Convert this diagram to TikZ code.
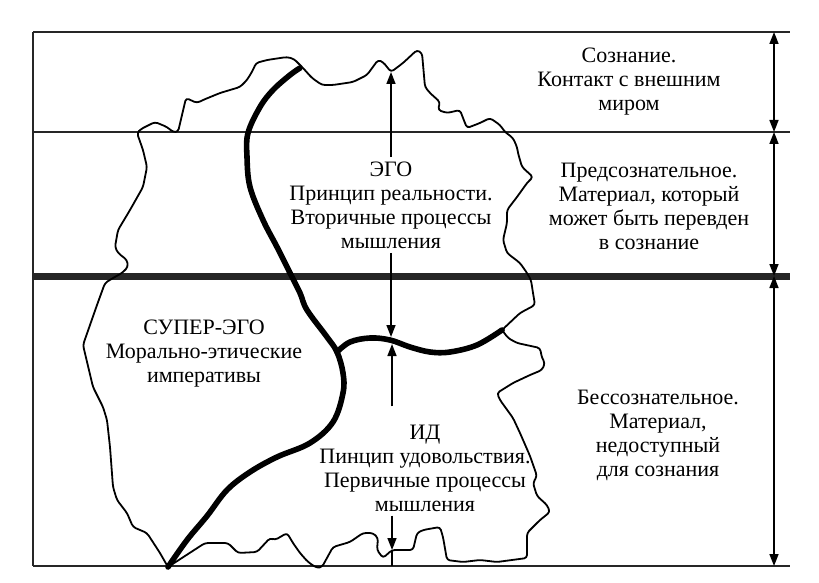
\documentclass[tikz,border=0pt]{standalone}
\usepackage{fontspec}
\setmainfont{Liberation Serif}
\usetikzlibrary{arrows.meta,calc}

\begin{document}
\begin{tikzpicture}[x=0.5pt,y=-0.5pt,
  lbl/.style={align=center,font=\fontsize{11}{12}\selectfont,inner sep=2pt},
  ar/.style={-{Triangle[length=6pt,width=4.5pt]},line width=0.8pt},
  dar/.style={{Triangle[length=6pt,width=4.5pt]}-{Triangle[length=6pt,width=4.5pt]},line width=0.8pt},
  rule/.style={line width=1pt,color=black!85},
  rim/.style={line width=0.9pt,rounded corners=1.5pt,line join=round},
  wall/.style={line width=2.8pt,line cap=round}]
\useasboundingbox (0,0) rectangle (819,583);
% frame and levels
\foreach \y in {32,132,566} \draw[rule] (33,\y) -- (790,\y);
\draw[rule,line width=3.5pt] (33,276) -- (790,276);
\draw[rule] (33,32) -- (33,566);
\foreach \n/\y in {r0/32,r1/132,r2/276,r3/566} \coordinate (\n) at (774,\y);
\draw[dar] (r0) -- (r1);
\draw[dar] (r1) -- (r2);
\draw[dar] (r2) -- (r3);
% outline of the psyche
\draw[rim] plot coordinates {(137,133) (141,129) (155,122) (167,127) (173,132) (178,132)
  (182,115) (186,98) (197,103) (203,100) (220,93) (240,87) (247,80) (253,70) (256,63)
  (267,60) (287,57) (294,59) (303,68) (312,78) (322,85) (333,85) (353,82) (367,75)
  (378,60) (383,62) (391,72) (403,63) (417,50) (422,53) (425,87) (430,93) (440,102)
  (438,110) (447,113) (460,110) (463,118) (467,128) (480,123) (490,118) (500,125)
  (505,132) (513,138) (517,147) (518,153) (522,167) (533,177) (527,183) (517,197)
  (507,210) (507,223) (503,240) (507,253) (520,263) (527,273) (531,280) (533,293)
  (535,305) (520,313) (502,330) (508,338) (517,343) (540,348) (542,358) (545,363)
  (542,370) (530,375) (513,383) (497,393) (500,400) (513,418) (520,433) (530,456)
  (537,476) (533,483) (537,496) (547,505) (550,512) (540,520) (527,533) (527,558)
  (497,562) (480,560) (463,562) (447,560) (443,537) (440,527) (423,530) (417,533)
  (413,550) (400,550) (392,550) (383,558) (377,550) (378,538) (373,533) (363,533)
  (350,542) (333,547) (322,567) (317,568) (308,562) (300,553) (293,543) (287,533)
  (275,540) (270,538) (257,552) (238,553) (228,543) (205,543) (168,567) (160,553)
  (147,533) (133,527) (127,513) (117,500) (113,487) (110,447) (107,420) (103,407)
  (93,387) (83,345) (90,325) (97,305) (105,283) (113,278) (122,273) (128,267)
  (127,260) (118,253) (115,247) (118,230) (130,210) (143,187) (147,167) (143,150)} -- cycle;
% borders between the instances
\draw[wall] plot[smooth,tension=0.6] coordinates {(300,68) (290,75) (273,90) (260,107)
  (248,133) (247,157) (250,187) (263,220) (277,247) (290,273) (300,293) (307,310)
  (327,337) (337,352) (343,373) (343,393) (333,422) (310,443) (277,457) (250,472)
  (227,490) (207,516) (187,540) (168,567)};
\draw[wall] plot[smooth,tension=0.6] coordinates {(337,352) (350,342) (370,338) (390,340)
  (410,347) (430,352) (450,352) (477,345) (502,330)};
% labels
\node[lbl] (soz) at (629,82) {Сознание.\\Контакт с внешним\\миром};
\node[lbl] (pred) at (649,206) {Предсознательное.\\Материал, который\\может быть перевден\\в сознание};
\node[lbl] (bess) at (658,435) {Бессознательное.\\Материал,\\недоступный\\для сознания};
\node[lbl] (ego) at (391,205) {ЭГО\\Принцип реальности.\\Вторичные процессы\\мышления};
\node[lbl] (super) at (204,354) {СУПЕР-ЭГО\\Морально-этические\\императивы};
\node[lbl] (id) at (425,468) {ИД\\Пинцип удовольствия.\\Первичные процессы\\мышления};
% pressure arrows
\coordinate (egotop) at (391,72);
\coordinate (egobot) at (391,337);
\coordinate (idtop) at (392,344);
\coordinate (idbot) at (392,550);
\coordinate (floor) at (392,566);
\draw[ar] (ego.north) -- (egotop);
\draw[ar] (ego.south) -- (egobot);
\draw[ar] ($(idtop |- id.north)+(0,-14)$) -- (idtop);
\draw[ar] (idtop |- id.south) -- (idbot);
\draw[line width=0.8pt] (idbot) -- (floor);
\end{tikzpicture}
\end{document}
